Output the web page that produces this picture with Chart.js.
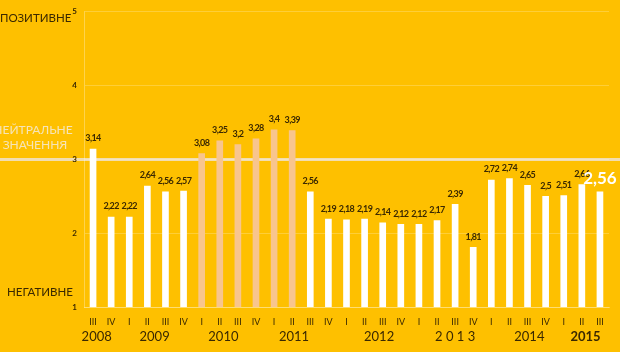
<!DOCTYPE html>
<html>
<head>
<meta charset="utf-8">
<script src="https://cdn.jsdelivr.net/npm/chart.js@4"></script>
<style>
  html, body { margin: 0; padding: 0; background: #FEC000; }
  #wrap { width: 620px; height: 352px; position: relative; }
</style>
</head>
<body>
<div id="wrap"><canvas id="myChart" width="620" height="352"></canvas></div>
<script>
let quarters = ['III','IV','I','II','III','IV','I','II','III','IV','I','II','III','IV','I','II','III','IV','I','II','III','IV','I','II','III','IV','I','II','III'];
let values = [3.14,2.22,2.22,2.64,2.56,2.57,3.08,3.25,3.2,3.28,3.4,3.39,2.56,2.19,2.18,2.19,2.14,2.12,2.12,2.17,2.39,1.81,2.72,2.74,2.65,2.5,2.51,2.66,2.56];
let years = ['2008','2009','2010','2011','2012','2 0 1 3','2014','2015'];
let yearPos = [0.2, 3.4, 7.2, 11.1, 15.8, 20, 24.1, 27.2];
let yTicks = [1, 2, 3, 4, 5];
let neutral = 3;

let dark = '#3a2800';
let barColors = values.map((v, i) => (i >= 6 && i <= 11) ? '#F8C58E' : '#FFFFFF');

let ctx = document.getElementById('myChart').getContext('2d');

let extras = {
  id: 'extras',
  beforeDraw(chart) {
    let c = chart.ctx;
    let y = chart.scales.y.getPixelForValue(neutral);
    c.save();
    c.strokeStyle = '#F1DDB0';
    c.lineWidth = 3;
    c.beginPath();
    c.moveTo(0, y);
    c.lineTo(chart.width, y);
    c.stroke();
    // left side captions
    c.font = '11.5px Lato';
    c.textBaseline = 'middle';
    c.textAlign = 'left';
    c.fillStyle = dark;
    c.fillText('ПОЗИТИВНЕ', 0, 18);
    c.fillText('НЕГАТИВНЕ', 7, 292);
    c.fillStyle = '#F6E4B8';
    c.textAlign = 'center';
    c.font = '12px Lato';
    c.fillText('НЕЙТРАЛЬНЕ', 33, 130);
    c.fillText('ЗНАЧЕННЯ', 35, 145);
    c.restore();
  },
  afterDatasetsDraw(chart) {
    let c = chart.ctx;
    let meta = chart.getDatasetMeta(0);
    c.save();
    c.textAlign = 'center';
    c.textBaseline = 'bottom';
    meta.data.forEach((bar, i) => {
      let last = i === values.length - 1;
      c.font = last ? 'bold 17px Lato' : 'bold 9px Lato';
      c.letterSpacing = last ? '0px' : '-0.6px';
      c.fillStyle = last ? '#FFFFFF' : dark;
      let txt = String(values[i]).replace('.', ',');
      c.fillText(txt, bar.x, bar.y - (last ? 5 : 6));
    });
    c.restore();
  }
};

let myChart = new Chart(ctx, {
  type: 'bar',
  data: {
    labels: quarters,
    datasets: [{
      data: values,
      backgroundColor: barColors,
      barThickness: 6
    }]
  },
  options: {
    responsive: false,
    animation: false,
    layout: { padding: { top: 6, right: 11, left: 0, bottom: 0 } },
    plugins: {
      legend: { display: false },
      tooltip: { enabled: false }
    },
    scales: {
      y: {
        min: 1,
        max: 5,
        afterBuildTicks: (scale) => { scale.ticks = yTicks.map(v => ({ value: v })); },
        afterFit: (scale) => { scale.width = 84; },
        grid: { color: 'rgba(255,255,255,0.22)', drawTicks: false },
        border: { color: 'rgba(255,255,255,0.3)' },
        ticks: {
          color: dark,
          padding: 7,
          font: { family: 'Lato', size: 8, weight: 'bold' }
        }
      },
      x: {
        grid: { display: false, drawTicks: false },
        border: { color: 'rgba(255,255,255,0.3)' },
        afterFit: (scale) => { scale.height = 22; },
        ticks: {
          color: dark,
          padding: 10,
          maxRotation: 0,
          autoSkip: false,
          font: { family: 'Lato', size: 9 }
        }
      },
      x2: {
        type: 'linear',
        position: 'bottom',
        offset: false,
        bounds: 'data',
        min: -0.5,
        max: values.length - 0.5,
        afterBuildTicks: (scale) => { scale.ticks = yearPos.map(v => ({ value: v })); },
        afterFit: (scale) => { scale.height = 23; },
        grid: { display: false, drawTicks: false },
        border: { display: false },
        ticks: {
          color: dark,
          padding: 0,
          maxRotation: 0,
          autoSkip: false,
          callback: (v, i) => years[i],
          font: (context) => ({ family: 'Lato', size: 13, weight: context.index === years.length - 1 ? 'bold' : 'normal' })
        }
      }
    }
  },
  plugins: [extras]
});
</script>
</body>
</html>
